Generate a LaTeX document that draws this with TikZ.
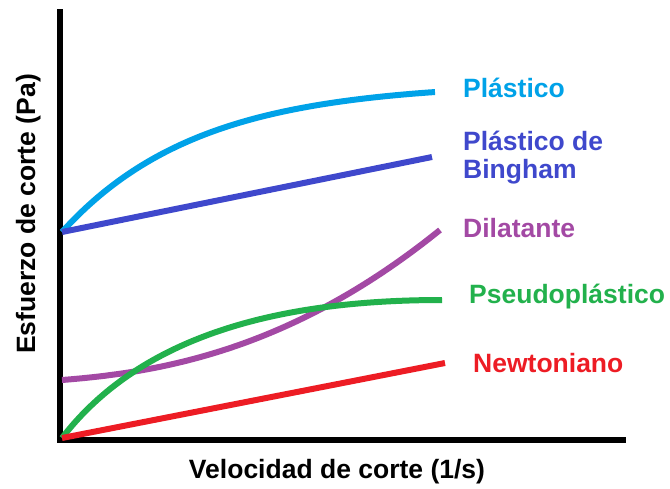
\documentclass[tikz,border=0pt]{standalone}
\usepackage{fontspec}
\setmainfont{Liberation Sans}
\definecolor{cPl}{HTML}{00A2E8}
\definecolor{cBi}{HTML}{3F48CC}
\definecolor{cDi}{HTML}{A349A4}
\definecolor{cPs}{HTML}{22B14C}
\definecolor{cNe}{HTML}{ED1C24}
\begin{document}
\begin{tikzpicture}[x=1pt,y=-1pt,
  curve/.style={line width=6pt},
  lbl/.style={font=\fontsize{26.5}{28}\selectfont\bfseries, inner sep=0pt, anchor=base west, align=left}]
\useasboundingbox (0,0) rectangle (670,488);
% axes
\draw[line width=6pt, line join=miter] (60,9) -- (60,440) -- (626,440);
% curves
\draw[curve, cPl] plot[domain=0:373, samples=80, smooth] ({62+\x}, {232-149.4*(1-exp(-\x/135))});
\draw[curve, cBi] (62,232) -- (432,157);
\draw[curve, cDi] plot[domain=0:378, samples=80, smooth] ({62+\x}, {380-(0.08*\x+119.8*(\x/378)^2.3)});
\draw[curve, cPs] (62,438) .. controls (142,334) and (282,300) .. (442,300);
\draw[curve, cNe] (62,438) -- (445,363);
% labels
\node[lbl, text=cPl] (lpl) at (463,97) {Plástico};
\node[lbl, text=cBi] (lbi) at (463,178) {Plástico de\\Bingham};
\node[lbl, text=cDi] (ldi) at (463,237) {Dilatante};
\node[lbl, text=cPs] (lps) at (469,303) {Pseudoplástico};
\node[lbl, text=cNe] (lne) at (473,372) {Newtoniano};
\node[font=\fontsize{26.5}{28}\selectfont\bfseries, inner sep=0pt, anchor=base] (xl) at (337,478) {Velocidad de corte (1/s)};
\node[font=\fontsize{26.5}{28}\selectfont\bfseries, inner sep=0pt, anchor=base, rotate=90] (yl) at (35,214) {Esfuerzo de corte (Pa)};
\end{tikzpicture}
\end{document}
